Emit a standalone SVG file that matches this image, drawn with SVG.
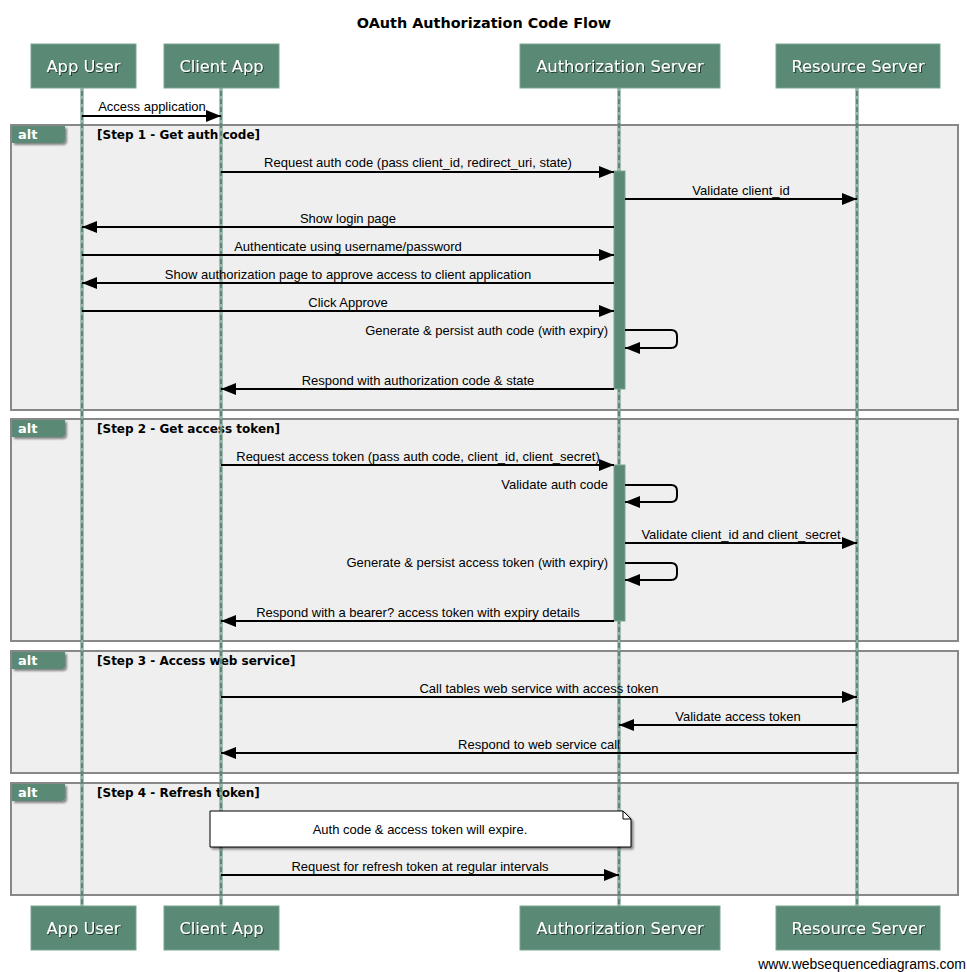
<svg xmlns="http://www.w3.org/2000/svg" width="967" height="972" viewBox="0 0 967 972">
<defs>
<style>
.part rect{fill:#5a8a75;stroke:#7aa592;stroke-width:1}
.part text{font-family:"DejaVu Sans",sans-serif;font-size:16.3px;fill:#fff;text-anchor:middle}
.life{stroke:#5a8a75;stroke-width:3}
.lifec{stroke:#cfe0d8;stroke-width:1;stroke-dasharray:3 5}
.frame{fill:#efefef;stroke:#888;stroke-width:2}
.tab{fill:#5a8a75}
.tabt{font-family:"DejaVu Sans",sans-serif;font-size:13px;font-weight:bold;fill:#fff}
.cond{font-family:"DejaVu Sans",sans-serif;font-size:12px;font-weight:bold;fill:#000}
.msg{stroke:#000;stroke-width:2;fill:none;marker-end:url(#ah)}
.lbl{font-family:"Liberation Sans",Arial,sans-serif;font-size:13px;fill:#000;text-anchor:middle}
.lblr{font-family:"Liberation Sans",Arial,sans-serif;font-size:13px;fill:#000;text-anchor:end}
.act{fill:#5a8a75;stroke:#7aa592;stroke-width:1}
</style>
<marker id="ah" markerUnits="userSpaceOnUse" markerWidth="16" markerHeight="14" refX="15" refY="7" orient="auto">
<path d="M0,1 L15,7 L0,13 Z" fill="#000"/>
</marker>
<filter id="sh" x="-10%" y="-10%" width="130%" height="140%">
<feDropShadow dx="2" dy="2" stdDeviation="1.2" flood-color="#000" flood-opacity="0.45"/>
</filter>
<filter id="ts" x="-10%" y="-20%" width="130%" height="150%">
<feDropShadow dx="1" dy="1" stdDeviation="0.6" flood-color="#000" flood-opacity="0.6"/>
</filter>
</defs>
<rect width="967" height="972" fill="#fff"/>
<text x="484" y="28" font-family="DejaVu Sans,sans-serif" font-size="14.4" font-weight="bold" text-anchor="middle">OAuth Authorization Code Flow</text>

<g id="frames">
<rect class="frame" x="11" y="125" width="947" height="285"/>
<path class="tab" d="M12,126 H65 V139 Q65,143 61,143 H12 Z" filter="url(#sh)"/>
<text class="tabt" x="18" y="139">alt</text>
<text class="cond" x="97" y="139">[Step 1 - Get auth code]</text>
<rect class="frame" x="11" y="419" width="947" height="222"/>
<path class="tab" d="M12,420 H65 V433 Q65,437 61,437 H12 Z" filter="url(#sh)"/>
<text class="tabt" x="18" y="433">alt</text>
<text class="cond" x="97" y="433">[Step 2 - Get access token]</text>
<rect class="frame" x="11" y="651" width="947" height="122"/>
<path class="tab" d="M12,652 H65 V665 Q65,669 61,669 H12 Z" filter="url(#sh)"/>
<text class="tabt" x="18" y="665">alt</text>
<text class="cond" x="97" y="665">[Step 3 - Access web service]</text>
<rect class="frame" x="11" y="783" width="947" height="112"/>
<path class="tab" d="M12,784 H65 V797 Q65,801 61,801 H12 Z" filter="url(#sh)"/>
<text class="tabt" x="18" y="797">alt</text>
<text class="cond" x="97" y="797">[Step 4 - Refresh token]</text>
</g>

<g id="lifelines">
<line class="life" x1="82" y1="88" x2="82" y2="906"/>
<line class="lifec" x1="82" y1="88" x2="82" y2="906"/>
<line class="life" x1="221" y1="88" x2="221" y2="906"/>
<line class="lifec" x1="221" y1="88" x2="221" y2="906"/>
<line class="life" x1="619" y1="88" x2="619" y2="906"/>
<line class="lifec" x1="619" y1="88" x2="619" y2="906"/>
<line class="life" x1="857" y1="88" x2="857" y2="906"/>
<line class="lifec" x1="857" y1="88" x2="857" y2="906"/>
</g>

<g id="activations">
<rect class="act" x="614" y="171" width="11" height="218"/>
<rect class="act" x="614" y="465" width="11" height="156"/>
</g>

<g id="participants">
<g id="p-appuser-top" class="part"><rect x="31" y="44" width="105" height="44"/><text x="83.5" y="72" filter="url(#ts)">App User</text></g>
<g id="p-client-top" class="part"><rect x="164" y="44" width="115" height="44"/><text x="221.5" y="72" filter="url(#ts)">Client App</text></g>
<g id="p-auth-top" class="part"><rect x="520" y="44" width="200" height="44"/><text x="620" y="72" filter="url(#ts)">Authorization Server</text></g>
<g id="p-res-top" class="part"><rect x="776" y="44" width="164" height="44"/><text x="858" y="72" filter="url(#ts)">Resource Server</text></g>
<g id="p-appuser-bot" class="part"><rect x="31" y="906" width="105" height="44"/><text x="83.5" y="934" filter="url(#ts)">App User</text></g>
<g id="p-client-bot" class="part"><rect x="164" y="906" width="115" height="44"/><text x="221.5" y="934" filter="url(#ts)">Client App</text></g>
<g id="p-auth-bot" class="part"><rect x="520" y="906" width="200" height="44"/><text x="620" y="934" filter="url(#ts)">Authorization Server</text></g>
<g id="p-res-bot" class="part"><rect x="776" y="906" width="164" height="44"/><text x="858" y="934" filter="url(#ts)">Resource Server</text></g>
</g>

<g id="note">
<path d="M210,811 H623 L631,819 V847 H210 Z" fill="#fff" stroke="#000" stroke-width="1" filter="url(#sh)"/>
<path d="M623,811 V819 H631" fill="none" stroke="#000" stroke-width="1"/>
<text class="lbl" x="420" y="834">Auth code &amp; access token will expire.</text>
</g>

<g id="connectors">
<line class="msg" x1="82" y1="116" x2="221" y2="116"/>
<text class="lbl" x="152" y="111">Access application</text>

<line class="msg" x1="221" y1="172" x2="614" y2="172"/>
<text class="lbl" x="418" y="167">Request auth code (pass client_id, redirect_uri, state)</text>
<line class="msg" x1="625" y1="199" x2="857" y2="199"/>
<text class="lbl" x="741" y="195">Validate client_id</text>
<line class="msg" x1="614" y1="227" x2="82" y2="227"/>
<text class="lbl" x="348" y="223">Show login page</text>
<line class="msg" x1="82" y1="255" x2="614" y2="255"/>
<text class="lbl" x="348" y="251">Authenticate using username/password</text>
<line class="msg" x1="614" y1="283" x2="82" y2="283"/>
<text class="lbl" x="348" y="279">Show authorization page to approve access to client application</text>
<line class="msg" x1="82" y1="311" x2="614" y2="311"/>
<text class="lbl" x="348" y="307">Click Approve</text>
<path class="msg" d="M625,330 H671 Q677,330 677,336 V342 Q677,348 671,348 H625"/>
<text class="lblr" x="608" y="335">Generate &amp; persist auth code (with expiry)</text>
<line class="msg" x1="614" y1="389" x2="221" y2="389"/>
<text class="lbl" x="418" y="385">Respond with authorization code &amp; state</text>

<line class="msg" x1="221" y1="465" x2="614" y2="465"/>
<text class="lbl" x="418" y="461">Request access token (pass auth code, client_id, client_secret)</text>
<path class="msg" d="M625,485 H671 Q677,485 677,491 V496 Q677,502 671,502 H625"/>
<text class="lblr" x="608" y="489">Validate auth code</text>
<line class="msg" x1="625" y1="543" x2="857" y2="543"/>
<text class="lbl" x="741" y="539">Validate client_id and client_secret</text>
<path class="msg" d="M625,563 H671 Q677,563 677,569 V574 Q677,580 671,580 H625"/>
<text class="lblr" x="608" y="567">Generate &amp; persist access token (with expiry)</text>
<line class="msg" x1="614" y1="621" x2="221" y2="621"/>
<text class="lbl" x="418" y="617">Respond with a bearer? access token with expiry details</text>

<line class="msg" x1="221" y1="697" x2="857" y2="697"/>
<text class="lbl" x="539" y="693">Call tables web service with access token</text>
<line class="msg" x1="857" y1="725" x2="619" y2="725"/>
<text class="lbl" x="738" y="721">Validate access token</text>
<line class="msg" x1="857" y1="753" x2="221" y2="753"/>
<text class="lbl" x="539" y="749">Respond to web service call</text>

<line class="msg" x1="221" y1="875" x2="619" y2="875"/>
<text class="lbl" x="420" y="871">Request for refresh token at regular intervals</text>
</g>

<text x="966" y="969" font-family="Liberation Sans,Arial,sans-serif" font-size="14" text-anchor="end">www.websequencediagrams.com</text>
</svg>
